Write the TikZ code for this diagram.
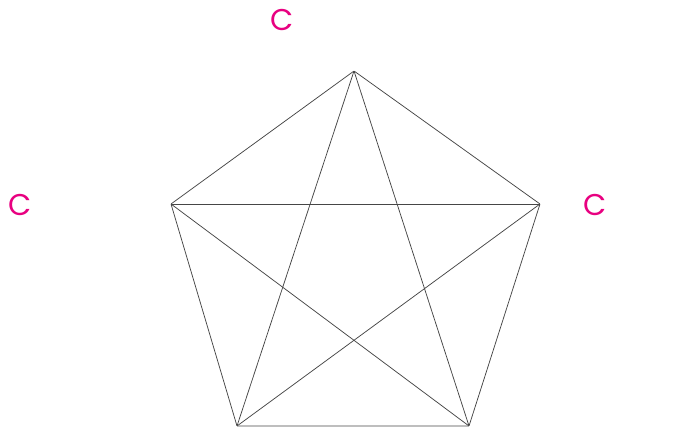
\documentclass[tikz,border=0pt]{standalone}
\usepackage{fontspec}
\setmainfont{Poppins}
\definecolor{lab}{RGB}{232,0,128}
\definecolor{edge}{RGB}{70,70,70}
\begin{document}
\begin{tikzpicture}[x=1pt,y=1pt,
  vtx/.style={inner sep=0pt,minimum size=0pt},
  lbl/.style={inner sep=0pt,anchor=west,text=lab,font=\fontsize{30}{30}\selectfont},
  edg/.style={draw=edge,line width=0.75pt}]
\useasboundingbox (0,0) rectangle (687,427);
\node[vtx] (t) at (354,356) {};
\node[vtx] (l) at (171,223) {};
\node[vtx] (r) at (540,223) {};
\node[vtx] (bl) at (237,1) {};
\node[vtx] (br) at (469,1) {};
\node[lbl] (lt) at (270,407) {C};
\node[lbl] (ll) at (8,222) {C};
\node[lbl] (lr) at (583,222) {C};
\draw[edg] (t) -- (r) -- (br) -- (bl) -- (l) -- (t);
\draw[edg] (t) -- (bl);
\draw[edg] (t) -- (br);
\draw[edg] (l) -- (r);
\draw[edg] (l) -- (br);
\draw[edg] (r) -- (bl);
\end{tikzpicture}
\end{document}
